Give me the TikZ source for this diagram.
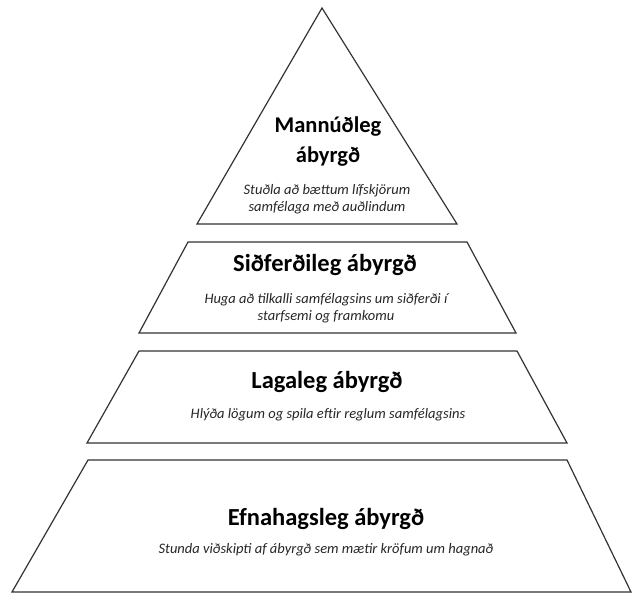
\documentclass[tikz,border=0pt]{standalone}
\usepackage{fontspec}
\setmainfont{Carlito}
\begin{document}
\begin{tikzpicture}[x=1pt,y=-1pt,
  layer/.style={draw=black!80, line width=1.2pt, line join=miter, fill=white},
  ttl/.style={font=\fontsize{24.5}{29}\selectfont\bfseries, align=center, inner sep=0pt},
  ttlsmall/.style={ttl, font=\fontsize{22.5}{30}\selectfont\bfseries},
  sub/.style={font=\fontsize{14.5}{17}\selectfont\itshape, text=black!85, align=center, inner sep=0pt}]
\useasboundingbox (0,0) rectangle (633,594);
% layers
\draw[layer] (322,8) -- (457,224) -- (197,224) -- cycle;
\draw[layer] (188,242) -- (467,242) -- (516,333) -- (139,333) -- cycle;
\draw[layer] (139,351) -- (517,351) -- (567,443) -- (87,443) -- cycle;
\draw[layer] (88,460) -- (567,460) -- (631,592) -- (12,592) -- cycle;
% texts
\node[ttlsmall] (t1) at (328,142) {Mannúðleg\\ábyrgð};
\node[sub] (s1) at (327,199.5) {Stuðla að bættum lífskjörum\\samfélaga með auðlindum};
\node[ttl] (t2) at (325,265) {Siðferðileg ábyrgð};
\node[sub] (s2) at (326,308.5) {Huga að tilkalli samfélagsins um siðferði í\\starfsemi og framkomu};
\node[ttl] (t3) at (327,382) {Lagaleg ábyrgð};
\node[sub] (s3) at (328,415) {Hlýða lögum og spila eftir reglum samfélagsins};
\node[ttl] (t4) at (326,519) {Efnahagsleg ábyrgð};
\node[sub] (s4) at (326,550) {Stunda viðskipti af ábyrgð sem mætir kröfum um hagnað};
\end{tikzpicture}
\end{document}
